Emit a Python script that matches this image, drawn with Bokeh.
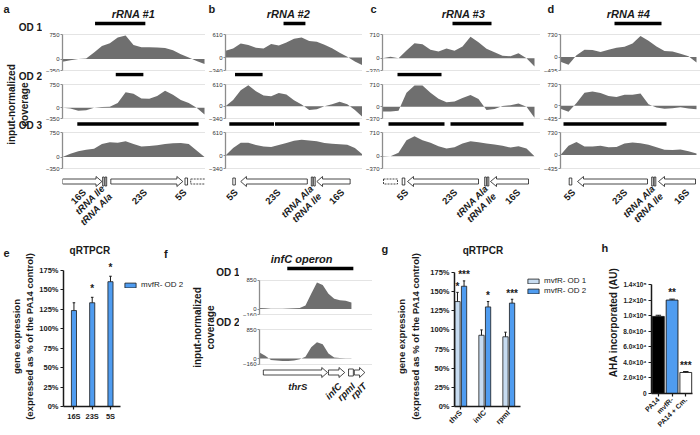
import math
from bokeh.plotting import figure
from bokeh.layouts import row, column
from bokeh.models import Range1d, FixedTicker, Legend, LegendItem
from bokeh.core.properties import value
from bokeh.embed import file_html
from bokeh.resources import INLINE

FONT = "Liberation Sans"
INK = "#1a1a1a"
COV = "#6f6f6f"
AXG = "#8c8c8c"
GRID = "#e4e4e4"
BLUE = "#4f9cf0"
LIGHT = "#c7dcf1"

# ---------------- panels a-d: input-normalized coverage on rRNA operons ----------------
rrna_titles = ["rRNA #1", "rRNA #2", "rRNA #3", "rRNA #4"]
rrna_letters = ["a", "b", "c", "d"]
od_names = ["OD 1", "OD 2", "OD 3"]
cov_top = [750, 610, 710, 730]
cov_bottom = [-350, -340, -370, -435]

pos_a = [0, 8, 16, 24, 32, 40, 48, 56, 64, 72, 80, 88, 96, 104, 112, 120, 128, 136, 144]
cov_a_od1 = [-80, -40, 0, 20, 200, 400, 480, 660, 720, 430, 360, 360, 355, 340, 270, 150, 50, -60, -150]
cov_a_od2 = [0, -30, -100, -80, 0, 20, 30, 150, 500, 450, 300, 290, 380, 550, 420, 250, 150, 0, -220]
cov_a_od3 = [0, 100, 180, 220, 250, 400, 450, 440, 480, 400, 320, 340, 360, 400, 420, 430, 400, 200, 0]

pos_b = [0, 8, 16, 24, 32, 40, 48, 56, 64, 72, 80, 88, 96, 104, 112, 120, 128, 136, 144]
cov_b_od1 = [180, 240, 370, 330, 260, 240, 360, 320, 400, 500, 530, 440, 420, 340, 250, 130, 20, -100, -200]
cov_b_od2 = [0, 180, 450, 590, 420, 300, 280, 370, 330, 170, 50, -100, -80, 0, 60, 130, 60, -100, -300]
cov_b_od3 = [0, 200, 340, 340, 280, 240, 230, 280, 330, 390, 420, 400, 380, 330, 310, 300, 290, 200, 30]

pos_c = [0, 8, 16, 24, 32, 40, 48, 56, 64, 72, 80, 88, 96, 104, 112, 120, 128, 136, 144, 152]
cov_c_od1 = [0, 40, 0, 230, 450, 420, 250, 200, 290, 220, 350, 640, 480, 280, 180, 70, 60, 150, 0, -250]
cov_c_od2 = [-150, -150, -120, 450, 680, 680, 450, 260, 150, 170, 280, 380, 250, -100, -70, 30, 50, 110, 0, -350]
cov_c_od3 = [-20, 0, 100, 480, 600, 480, 400, 300, 230, 270, 380, 450, 420, 380, 350, 310, 260, 300, 230, 0]

pos_d = [0, 8, 16, 24, 32, 40, 48, 56, 64, 72, 80, 88, 96, 104, 112, 120, 128, 136]
cov_d_od1 = [-150, -250, 60, 240, 230, 160, 240, 300, 330, 440, 680, 530, 340, 200, 180, 110, 30, -180]
cov_d_od2 = [-100, -200, 100, 450, 490, 440, 340, 300, 380, 380, 420, 50, -60, -100, -80, -50, -90, -120]
cov_d_od3 = [0, 300, 420, 280, 280, 300, 250, 260, 370, 410, 380, 330, 250, 170, 160, 180, 120, 50]

# enriched regions (start, end) per track
peaks_a = [[(33, 84)], [(54, 82)], [(15, 138)]]
peaks_b = [[(61, 84)], [(10, 39)], [(4, 51), (52, 141)]]
peaks_c = [[(70, 109)], [(15, 59)], [(6, 62), (68, 141)]]
peaks_d = [[(54, 101)], [], [(3, 106)]]

# gene maps
gene_a_left, gene_a_right, gene_a_dir = [0, 49], [40, 122], [1, 1]
gene_b_left, gene_b_right, gene_b_dir = [16, 96], [86, 131], [-1, -1]
gene_c_left, gene_c_right, gene_c_dir = [25, 108], [96, 146], [-1, -1]
gene_d_left, gene_d_right, gene_d_dir = [17, 98], [87, 135], [-1, -1]
trna_a, trna_b, trna_c, trna_d = [41.5, 44], [91, 93.5], [103, 105.5], [92, 94.5]
box5s_a, box5s_b, box5s_c, box5s_d = [125.5], [9], [21], [10]
dash_a, dash_b, dash_c, dash_d = [(130, 145)], [], [(1, 15)], []
glab_a = ["16S", "tRNA Ile\ntRNA Ala", "23S", "5S"]
glab_a_x = [22, 45, 84, 124]
glab_b = ["5S", "23S", "tRNA Ala\ntRNA Ile", "16S"]
glab_b_x = [11, 56, 95, 123]
glab_c = ["5S", "23S", "tRNA Ala\ntRNA Ile", "16S"]
glab_c_x = [24, 73, 108, 136]
glab_d = ["5S", "23S", "tRNA Ala\ntRNA Ile", "16S"]
glab_d_x = [13, 65, 97, 127]

# ---------------- panel e ----------------
e_genes = ["16S", "23S", "5S"]
e_od2 = [123, 133, 160]
e_od2_err = [10, 7, 7]
e_stars = ["", "*", "*"]
pct_ticks = [0, 25, 50, 75, 100, 125, 150, 175]
qpcr_ylabel = "gene expression\n(expressed as % of the PA14 control)"

# ---------------- panel f: infC operon ----------------
f_pos = [0, 6, 12, 18, 24, 30, 36, 42, 48, 54, 60, 66, 72, 78, 84, 90, 96]
f_od1 = [30, 20, 10, 10, 10, 15, 20, 30, 100, 450, 780, 700, 450, 300, 260, 240, 190]
f_od2 = [180, 80, -40, -60, -70, -70, -60, -20, 50, 330, 480, 420, 150, 30, 15, 10, 10]
f_top, f_bottom = 850, -160
f_peaks = [[(29, 98)], []]
f_gene_left, f_gene_right, f_gene_dir = [4, 72, 99], [71, 89, 110], [1, 1, 1]
f_box = [95.5]
f_lab = ["infC", "rpmI", "rplT"]
f_lab_x = [84, 98, 110]

# ---------------- panel g ----------------
g_genes = ["thrS", "infC", "rpmI"]
g_od1 = [137, 93, 91]
g_od1_err = [12, 7, 6]
g_od2 = [157, 130, 135]
g_od2_err = [7, 7, 5]
g_stars_od1 = ["*", "", ""]
g_stars_od2 = ["***", "*", "***"]

# ---------------- panel h ----------------
h_strains = ["PA14", "mvfR-", "PA14 + Cm."]
h_aha = [99000, 120000, 27000]
h_aha_err = [1500, 1200, 1200]
h_stars = ["", "**", "***"]
h_colors = ["#000000", BLUE, "#ffffff"]
h_ticks = [0, 20000, 40000, 60000, 80000, 100000, 120000, 140000]
h_tick_text = ["0", "2.0\u00d710\u2074", "4.0\u00d710\u2074", "6.0\u00d710\u2074", "8.0\u00d710\u2074",
               "1.0\u00d710\u2075", "1.2\u00d710\u2075", "1.4\u00d710\u2075"]


# ---------------- helpers ----------------
def mapper(fl, fr, ft, fb, x0, x1, y0, y1):
    def gx(px):
        return x0 + (px - fl) * (x1 - x0) / (fr - fl)

    def gy(py):
        return y0 + (fb - py) * (y1 - y0) / (fb - ft)
    return gx, gy


def base_fig(w, h, x0, x1, y0, y1, left=0, right=0, top=0, bottom=0, xaxis=None, yaxis=None):
    p = figure(width=w, height=h, x_range=Range1d(x0, x1), y_range=Range1d(y0, y1),
               x_axis_type=xaxis, y_axis_type=yaxis, tools="", toolbar_location=None,
               output_backend="svg", min_border_left=left, min_border_right=right,
               min_border_top=top, min_border_bottom=bottom)
    p.outline_line_color = None
    p.background_fill_color = "white"
    p.border_fill_color = "white"
    return p


def gutter(x0, x1, y0, y1):
    # plain text canvas whose data units are page pixels (y grows downward)
    return base_fig(x1 - x0, y1 - y0, x0, x1, y1, y0)


def put_text(p, xs, ys, texts, size, style="bold", align="center", baseline="middle",
             angle=0.0, color=INK, lh=1.0):
    p.text(x=xs, y=ys, text=texts, angle=angle, text_font=value(FONT), text_font_size=size,
           text_font_style=style, text_align=align, text_baseline=baseline, text_color=color,
           text_line_height=lh)


def arrow_poly(l, r, d, yc, hh=2.5, ah=5.0, al=6.0):
    al = min(al, 0.5 * (r - l))
    if d > 0:
        b = r - al
        xs = [l, b, b, r, b, b, l]
    else:
        b = l + al
        xs = [r, b, b, l, b, b, r]
    ys = [yc - hh, yc - hh, yc - ah, yc, yc + ah, yc + hh, yc + hh]
    return xs, ys


def draw_genes(p, lefts, rights, dirs, trnas, boxes, dashes, yc, box_w=2.6):
    if dashes:
        p.quad(left=[a for a, b in dashes], right=[b for a, b in dashes],
               top=[yc - 2.5] * len(dashes), bottom=[yc + 2.5] * len(dashes),
               fill_color="white", line_color=INK, line_width=0.8, line_dash="2 1")
    polys = [arrow_poly(l, r, d, yc) for l, r, d in zip(lefts, rights, dirs)]
    p.patches(xs=[a for a, b in polys], ys=[b for a, b in polys], fill_color="white",
              line_color=INK, line_width=0.8)
    if trnas:
        p.quad(left=[t - 0.8 for t in trnas], right=[t + 0.8 for t in trnas],
               top=[yc - 4.5] * len(trnas), bottom=[yc + 4.5] * len(trnas),
               fill_color="white", line_color=INK, line_width=0.8)
    if boxes:
        p.quad(left=[b - box_w / 2 for b in boxes], right=[b + box_w / 2 for b in boxes],
               top=[yc - 3.5] * len(boxes), bottom=[yc + 3.5] * len(boxes),
               fill_color="white", line_color=INK, line_width=0.8)


def style_track_axis(p, vtop, vbot):
    ax = p.yaxis[0]
    ax.ticker = FixedTicker(ticks=[vbot, 0, vtop])
    ax.bounds = (vbot, vtop)
    ax.axis_line_color = AXG
    ax.axis_line_width = 1.3
    ax.major_tick_line_color = AXG
    ax.major_tick_out = 2
    ax.major_tick_in = 0
    ax.minor_tick_line_color = None
    ax.major_label_standoff = 1
    ax.major_label_text_font = FONT
    ax.major_label_text_font_size = "6px"
    ax.major_label_text_color = "#333333"
    g = p.ygrid[0]
    g.ticker = FixedTicker(ticks=[vbot, vtop])
    g.grid_line_color = GRID


def track_fig(width, left, xmax, vtop, vbot, ft, fb, ytop, ybot, ybar, pos, vals, peaks, fl, fr):
    k = (vtop - vbot) / (ybot - ytop)
    y0 = vbot - (fb - ybot) * k
    y1 = vtop + (ytop - ft) * k
    p = base_fig(width, fb - ft, 0, xmax, y0, y1, left=left, yaxis="linear")
    gx, gy = mapper(fl, fr, ft, fb, 0, xmax, y0, y1)
    p.varea(x=pos, y1=0, y2=vals, fill_color=COV)
    if peaks:
        yb = gy(ybar)
        p.segment(x0=[s for s, e in peaks], x1=[e for s, e in peaks], y0=[yb] * len(peaks),
                  y1=[yb] * len(peaks), line_width=3.6, line_color="black")
    style_track_axis(p, vtop, vbot)
    return p, gx, gy


def style_bar_axes(p, size="7.5px"):
    for ax in (p.xaxis[0], p.yaxis[0]):
        ax.axis_line_color = INK
        ax.axis_line_width = 1.5
        ax.major_tick_line_color = INK
        ax.major_tick_line_width = 1.2
        ax.major_tick_out = 3
        ax.major_tick_in = 0
        ax.minor_tick_line_color = None
        ax.major_label_standoff = 2
        ax.major_label_text_font = FONT
        ax.major_label_text_font_size = size
        ax.major_label_text_font_style = "bold"
        ax.major_label_text_color = INK
    p.xgrid.visible = False
    p.ygrid.visible = False


def err_bars(p, xs, vals, errs, cap):
    ups = [v + e for v, e in zip(vals, errs)]
    p.segment(x0=xs, y0=vals, x1=xs, y1=ups, line_color=INK, line_width=1)
    p.segment(x0=[x - cap for x in xs], y0=ups, x1=[x + cap for x in xs], y1=ups,
              line_color=INK, line_width=1)


def legend(p, items, loc):
    lg = Legend(items=items, location=loc, padding=0, margin=0, spacing=1,
                border_line_color=None, background_fill_alpha=0, glyph_width=14,
                glyph_height=6, label_height=8, label_standoff=4,
                label_text_font=FONT, label_text_font_size="8px", label_text_color=INK)
    p.add_layout(lg)


# ================= top header (letters + titles) =================
hdr1 = gutter(0, 700, 0, 20)
put_text(hdr1, [3, 208, 370, 547], [8, 8, 8, 8], rrna_letters, "11px", align="left")
put_text(hdr1, [133, 288, 463, 628], [13.5] * 4, rrna_titles, "11px", style="bold italic")

# ================= top row =================
ROWS = [(20, 72, 34, 70, 23), (72, 121, 84, 118, 74), (121, 171, 132, 168, 123.5)]
OD_Y = [27, 76, 125]
GENE_TOP, GENE_BOT, GENE_Y, GLAB_Y = 171, 230, 181, 190

gut_a = gutter(0, 42, 20, 230)
put_text(gut_a, [17.5], [104], ["input-normalized\ncoverage"], "10px", angle=math.pi / 2, lh=1.1)
put_text(gut_a, [41.5] * 3, OD_Y, od_names, "10px", align="right")

panels = [
    dict(w=163, left=18, fl=60, fr=205, xmax=145, pos=pos_a, covs=[cov_a_od1, cov_a_od2, cov_a_od3],
         peaks=peaks_a, genes=(gene_a_left, gene_a_right, gene_a_dir, trna_a, box5s_a, dash_a),
         glab=glab_a, glab_x=glab_a_x),
    dict(w=157, left=15, fl=220, fr=362, xmax=144, pos=pos_b, covs=[cov_b_od1, cov_b_od2, cov_b_od3],
         peaks=peaks_b, genes=(gene_b_left, gene_b_right, gene_b_dir, trna_b, box5s_b, dash_b),
         glab=glab_b, glab_x=glab_b_x),
    dict(w=178, left=20, fl=382, fr=540, xmax=158, pos=pos_c, covs=[cov_c_od1, cov_c_od2, cov_c_od3],
         peaks=peaks_c, genes=(gene_c_left, gene_c_right, gene_c_dir, trna_c, box5s_c, dash_c),
         glab=glab_c, glab_x=glab_c_x),
    dict(w=160, left=20, fl=560, fr=700, xmax=140, pos=pos_d, covs=[cov_d_od1, cov_d_od2, cov_d_od3],
         peaks=peaks_d, genes=(gene_d_left, gene_d_right, gene_d_dir, trna_d, box5s_d, dash_d),
         glab=glab_d, glab_x=glab_d_x),
]

top_cols = [column(gut_a)]
for i, P in enumerate(panels):
    figs = []
    for t, (ft, fb, ytop, ybot, ybar) in enumerate(ROWS):
        p, _, _ = track_fig(P["w"], P["left"], P["xmax"], cov_top[i], cov_bottom[i],
                            ft, fb, ytop, ybot, ybar, P["pos"], P["covs"][t], P["peaks"][t],
                            P["fl"], P["fr"])
        figs.append(p)
    pg = base_fig(P["w"], GENE_BOT - GENE_TOP, 0, P["xmax"], GENE_BOT, GENE_TOP, left=P["left"])
    gl, gr, gd, gt, gb, gdash = P["genes"]
    draw_genes(pg, gl, gr, gd, gt, gb, gdash, GENE_Y)
    for lab, lx in zip(P["glab"], P["glab_x"]):
        put_text(pg, [lx], [GLAB_Y], [lab], "9.5px", style=("bold italic" if "tRNA" in lab else "bold"),
                 align="right", angle=math.pi / 4)
    figs.append(pg)
    top_cols.append(column(*figs))
top_row = row(*top_cols)

# ================= bottom row (page y 230 -> 435) =================
B_TOP, B_BOT = 230, 435

# ---- panel e ----
gut_e = gutter(0, 36, B_TOP, B_BOT)
put_text(gut_e, [3], [252], ["e"], "11px", align="left")
put_text(gut_e, [22.5], [336], [qpcr_ylabel], "9.5px", angle=math.pi / 2, lh=1.2)

E_FL, E_FR, E_FT, E_FB = 60, 188, B_TOP, 406
PCT = 0.78
e_x0 = 1 - (70.7 - E_FL) / 18.7
e_x1 = 1 + (E_FR - 70.7) / 18.7
e_y1 = (E_FB - E_FT) / PCT
pe = base_fig(152, B_BOT - B_TOP, e_x0, e_x1, 0, e_y1, left=24, bottom=B_BOT - E_FB,
              xaxis="linear", yaxis="linear")
egx, egy = mapper(E_FL, E_FR, E_FT, E_FB, e_x0, e_x1, 0, e_y1)
e_x = [1, 2, 3]
rb = pe.vbar(x=e_x, top=e_od2, width=0.28, fill_color=BLUE, line_color=INK, line_width=0.8)
err_bars(pe, e_x, e_od2, e_od2_err, 0.07)
put_text(pe, e_x, [v + e + 11 for v, e in zip(e_od2, e_od2_err)], e_stars, "10px")
put_text(pe, [egx(87)], [egy(250)], ["qRTPCR"], "10px")
put_text(pe, [egx(163)], [egy(253)], ["f"], "11px", align="left")
style_bar_axes(pe)
pe.yaxis.ticker = FixedTicker(ticks=pct_ticks)
pe.yaxis.bounds = (0, 175)
pe.yaxis.major_label_overrides = {t: f"{t}%" for t in pct_ticks}
pe.xaxis.ticker = FixedTicker(ticks=e_x)
pe.xaxis.major_label_overrides = {x: g for x, g in zip(e_x, e_genes)}
pe.xaxis.bounds = (e_x0, egx(118))
legend(pe, [LegendItem(label="mvfR- OD 2", renderers=[rb])], (120 - E_FL, E_FB - 289))

# ---- panel f ----
gut_f = gutter(188, 239, B_TOP, B_BOT)
put_text(gut_f, [203.5], [327], ["input-normalized\ncoverage"], "10px", angle=math.pi / 2, lh=1.1)
put_text(gut_f, [239, 239], [272, 322], ["OD 1", "OD 2"], "10px", align="right")

F_ROWS = [(B_TOP, 316, 279.5, 314, 268), (316, 366, 329, 363.5, None)]
f_figs = []
for t, (ft, fb, ytop, ybot, ybar) in enumerate(F_ROWS):
    p, fgx, fgy = track_fig(133, 15, 118, f_top, f_bottom, ft, fb, ytop, ybot, ybar,
                            f_pos, [f_od1, f_od2][t], f_peaks[t], 254, 372)
    if t == 0:
        put_text(p, [fgx(298)], [fgy(258)], ["infC operon"], "11px", style="bold italic")
    f_figs.append(p)
fg = base_fig(133, B_BOT - 366, 0, 118, B_BOT, 366, left=15)
draw_genes(fg, f_gene_left, f_gene_right, f_gene_dir, [], f_box, [], 372, box_w=5)
put_text(fg, [40], [386], ["thrS"], "9.5px", style="bold italic")
put_text(fg, f_lab_x, [384] * len(f_lab), f_lab, "9.5px", style="bold italic", align="right",
         angle=math.pi / 4)
f_figs.append(fg)

# ---- panel g ----
gut_g = gutter(372, 427, B_TOP, B_BOT)
put_text(gut_g, [381], [248], ["g"], "11px", align="left")
put_text(gut_g, [408], [336], [qpcr_ylabel], "9.5px", angle=math.pi / 2, lh=1.2)

G_FL, G_FR, G_FT, G_FB = 451, 600, B_TOP, 406
PCT_G = 0.766
g_x0 = 1 - (457.4 - G_FL) / 24.5
g_x1 = 1 + (G_FR - 457.4) / 24.5
g_y1 = (G_FB - G_FT) / PCT_G
pgq = base_fig(173, B_BOT - B_TOP, g_x0, g_x1, 0, g_y1, left=24, bottom=B_BOT - G_FB,
               xaxis="linear", yaxis="linear")
ggx, ggy = mapper(G_FL, G_FR, G_FT, G_FB, g_x0, g_x1, 0, g_y1)
g_x = [1, 2, 3]
x1s = [x - 0.137 for x in g_x]
x2s = [x + 0.137 for x in g_x]
r1 = pgq.vbar(x=x1s, top=g_od1, width=0.22, fill_color=LIGHT, line_color=INK, line_width=0.8)
r2 = pgq.vbar(x=x2s, top=g_od2, width=0.22, fill_color=BLUE, line_color=INK, line_width=0.8)
err_bars(pgq, x1s, g_od1, g_od1_err, 0.05)
err_bars(pgq, x2s, g_od2, g_od2_err, 0.05)
put_text(pgq, x1s, [v + e + 8 for v, e in zip(g_od1, g_od1_err)], g_stars_od1, "10px")
put_text(pgq, x2s, [v + e + 8 for v, e in zip(g_od2, g_od2_err)], g_stars_od2, "10px")
put_text(pgq, [ggx(480)], [ggy(250)], ["qRTPCR"], "10px")
style_bar_axes(pgq)
pgq.yaxis.ticker = FixedTicker(ticks=pct_ticks)
pgq.yaxis.bounds = (0, 175)
pgq.yaxis.major_label_overrides = {t: f"{t}%" for t in pct_ticks}
pgq.xaxis.ticker = FixedTicker(ticks=g_x)
pgq.xaxis.major_label_overrides = {x: g for x, g in zip(g_x, g_genes)}
pgq.xaxis.major_label_orientation = math.pi / 4
pgq.xaxis.bounds = (g_x0, ggx(518))
legend(pgq, [LegendItem(label="mvfR- OD 1", renderers=[r1]), LegendItem(label="mvfR- OD 2", renderers=[r2])],
       (523 - G_FL, G_FB - 295))

# ---- panel h ----
gut_h = gutter(600, 620, B_TOP, B_BOT)
put_text(gut_h, [601], [247], ["h"], "11px", align="left")
put_text(gut_h, [613], [322], ["AHA incorporated (AU)"], "10px", angle=math.pi / 2)

H_FL, H_FR, H_FT, H_FB = 650, 700, B_TOP, 393
H_SCALE = 109 / 140000
h_y1 = (H_FB - H_FT) / H_SCALE
h_x1 = 0.5 + (H_FR - H_FL) / 14
ph = base_fig(80, B_BOT - B_TOP, 0.5, h_x1, 0, h_y1, left=30, bottom=B_BOT - H_FB,
              xaxis="linear", yaxis="linear")
h_x = [1, 2, 3]
ph.vbar(x=h_x, top=h_aha, width=0.86, fill_color=h_colors, line_color=INK, line_width=0.9)
err_bars(ph, h_x, h_aha, h_aha_err, 0.2)
put_text(ph, h_x, [v + e + 8000 for v, e in zip(h_aha, h_aha_err)], h_stars, "10px")
style_bar_axes(ph, size="6.5px")
ph.yaxis.ticker = FixedTicker(ticks=h_ticks)
ph.yaxis.bounds = (0, 140000)
ph.yaxis.major_label_overrides = {t: s for t, s in zip(h_ticks, h_tick_text)}
ph.xaxis.ticker = FixedTicker(ticks=h_x)
ph.xaxis.bounds = (0.5, 3.5)
ph.xaxis.major_label_overrides = {x: s for x, s in zip(h_x, h_strains)}
ph.xaxis.major_label_orientation = math.pi / 4
ph.xaxis.major_label_text_font_size = "7px"

bottom_row = row(column(gut_e), column(pe), column(gut_f), column(*f_figs), column(gut_g),
                 column(pgq), column(gut_h), column(ph))
page = column(hdr1, top_row, bottom_row)

open("out.html", "w").write(file_html(page, INLINE))
